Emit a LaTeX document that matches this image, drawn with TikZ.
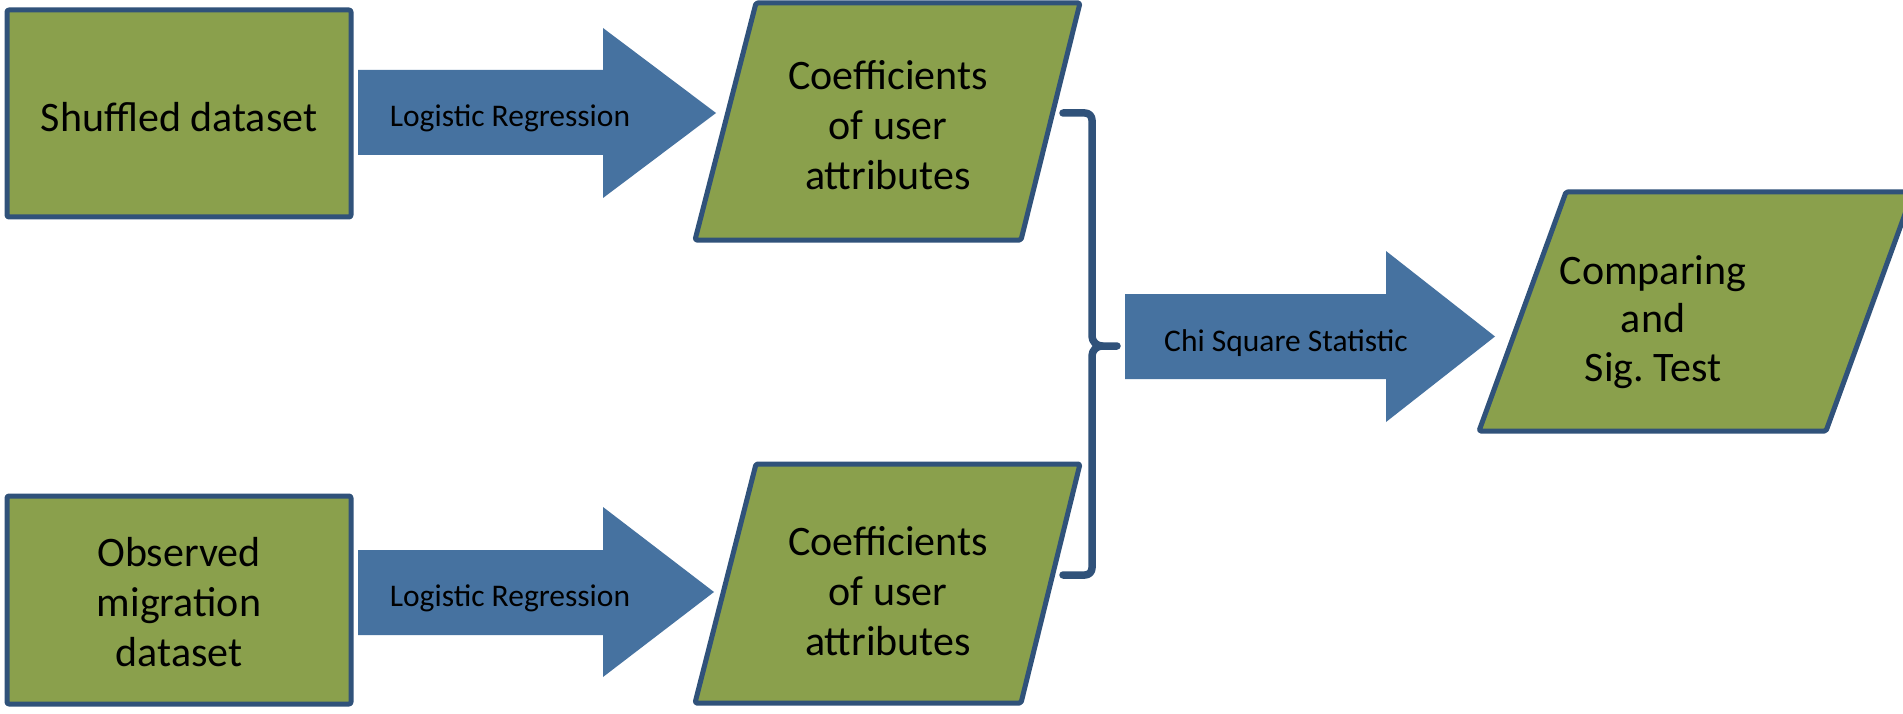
\documentclass[tikz,border=0pt]{standalone}
\usepackage{fontspec}
\setmainfont{Carlito}
\definecolor{boxgreen}{HTML}{8AA04C}
\definecolor{edgeblue}{HTML}{30527A}
\definecolor{arrowblue}{HTML}{4672A0}
\tikzset{
  databox/.style={draw=edgeblue, fill=boxgreen, line width=5pt, rounded corners=2pt,
    line join=round, inner sep=0pt, minimum width=344pt},
  slanted/.style={draw=edgeblue, fill=boxgreen, line width=5pt, line join=round, rounded corners=1.5pt},
  bigtext/.style={align=center, font=\fontsize{42}{50}\selectfont, inner sep=0pt},
  blockarrow/.style={fill=arrowblue},
  arrowtext/.style={font=\fontsize{31.5}{36}\selectfont, inner sep=0pt},
  bracket/.style={draw=edgeblue, line width=7.5pt, line cap=round, line join=round}
}
\begin{document}
\begin{tikzpicture}[x=1pt, y=-1pt]
  \clip (0,0) rectangle (1903,714);
  \fill[white] (0,0) rectangle (1903,714);

  % input datasets
  \node[databox, minimum height=207pt] (shuffledbox) at (179,113.5) {};
  \node[databox, minimum height=208pt] (observedbox) at (179,600) {};
  \node[bigtext] (shuffled) at (179,117.5) {Shuffled dataset};
  \node[bigtext] (observed) at (179,602.5) {Observed\\migration\\dataset};

  % regression arrows
  \path[blockarrow] (358,70) -- (603,70) -- (603,28) -- (716,113) -- (603,198) -- (603,155) -- (358,155) -- cycle;
  \node[arrowtext] (lr1) at (510,118.5) {Logistic Regression};
  \path[blockarrow] (358,550) -- (603,550) -- (603,507) -- (714,592) -- (603,677) -- (603,635) -- (358,635) -- cycle;
  \node[arrowtext] (lr2) at (510,598.5) {Logistic Regression};

  % coefficient outputs
  \draw[slanted] (756,3) -- (1080,3) -- (1021,240) -- (695,240) -- cycle;
  \node[bigtext] (coef1) at (888,125) {Coefficients\\of user\\attributes};
  \draw[slanted] (756,464) -- (1080,464) -- (1021,703) -- (695,703) -- cycle;
  \node[bigtext] (coef2) at (888,591) {Coefficients\\of user\\attributes};

  % bracket joining both coefficient sets
  \coordinate (bt) at (1063,113);
  \coordinate (bb) at (1063,575);
  \coordinate (bm) at (1117,346);
  \draw[bracket] (bt) -- (1085,113) to[out=0,in=90] (1092,120) -- (1092,336)
    to[out=-90,in=180] (1102,346) -- (bm);
  \draw[bracket] (bb) -- (1085,575) to[out=0,in=-90] (1092,568) -- (1092,356)
    to[out=90,in=180] (1102,346);

  % chi square arrow
  \path[blockarrow] (1125,294) -- (1386,294) -- (1386,251) -- (1495,336.5) -- (1386,422) -- (1386,379) -- (1125,379) -- cycle;
  \node[arrowtext] (chi) at (1286,343.5) {Chi Square Statistic};

  % final comparison
  \draw[slanted] (1566,192) -- (1913,192) -- (1826,431) -- (1479,431) -- cycle;
  \node[bigtext, font=\fontsize{42}{48.5}\selectfont] (compare) at (1653,322) {Comparing\\and\\Sig.\ Test};
\end{tikzpicture}
\end{document}
